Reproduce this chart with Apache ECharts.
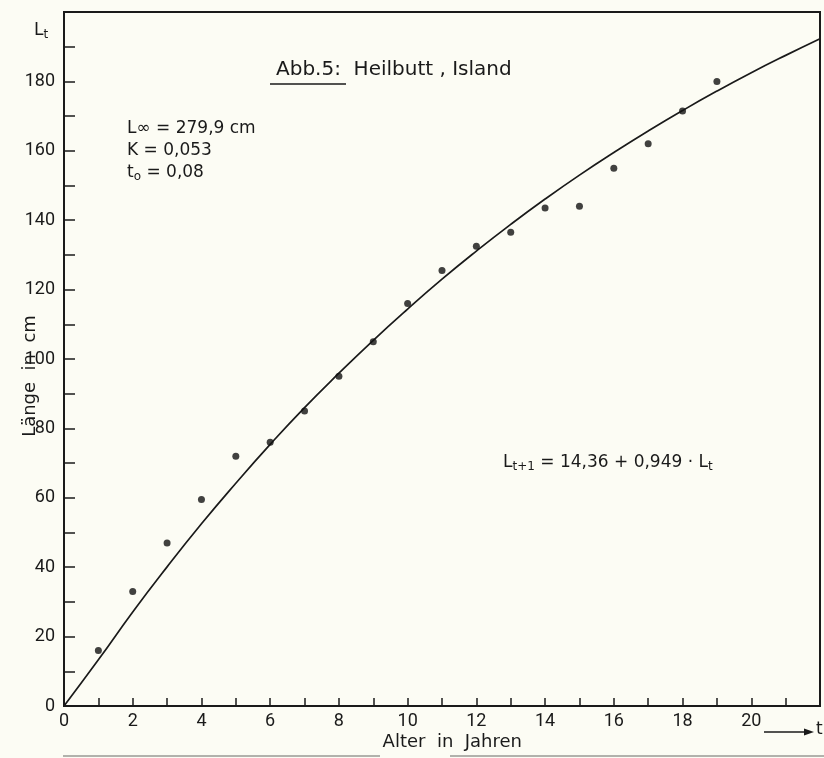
<!DOCTYPE html>
<html>
<head>
<meta charset="utf-8">
<script src="https://cdn.jsdelivr.net/npm/echarts@6/dist/echarts.min.js"></script>
<style>
  html, body { margin: 0; padding: 0; background: #fcfcf4; }
</style>
</head>
<body>
<div id="chart" style="width: 824px;height: 758px;"></div>
<script>
// Alter (Jahre) und gemessene Längen
const ageYears = [1, 2, 3, 4, 5, 6, 7, 8, 9, 10, 11, 12, 13, 14, 15, 16, 17, 18, 19]
const lengthCm = [16, 33, 47, 59.5, 72, 76, 85, 95, 105, 116, 125.5, 132.5, 136.5, 143.5, 144, 155, 162, 171.5, 180]

const curveAge = [0, 1, 2, 3, 4, 5, 6, 7, 8, 9, 10, 11, 12, 13, 14, 15, 16, 17, 18, 19, 20, 21, 22]
const curveLength = [0, 13.3, 27.1, 40.1, 52.5, 64.2, 75.4, 86, 95.9, 105.4, 114.4, 123, 131.1, 138.8, 146.1, 153, 159.5, 165.7, 171.6, 177.2, 182.5, 187.5, 192.3]

const xLabels = [0, 2, 4, 6, 8, 10, 12, 14, 16, 18, 20]
const yLabels = [0, 20, 40, 60, 80, 100, 120, 140, 160, 180]

const font = 'DejaVu Sans'
const numFont = 'Roboto'
const ink = '#1a1a1a'

const chart = echarts.init(document.getElementById('chart'))

const points = ageYears.map((t, i) => [t, lengthCm[i]])
const curve = curveAge.map((t, i) => [t, curveLength[i]])

chart.setOption({
  backgroundColor: '#fcfcf4',
  animation: false,
  grid: {
    left: 64,
    right: 4,
    top: 12,
    bottom: 52,
    show: true,
    borderColor: ink,
    borderWidth: 2
  },
  xAxis: {
    type: 'value',
    min: 0,
    max: 22,
    interval: 1,
    splitLine: { show: false },
    axisLine: { lineStyle: { color: ink, width: 2 } },
    axisTick: { inside: true, length: 8, lineStyle: { color: ink, width: 1.5 } },
    axisLabel: {
      color: ink,
      fontFamily: numFont,
      fontSize: 18,
      margin: 6,
      showMaxLabel: false,
      formatter: (v) => xLabels.indexOf(v) >= 0 ? String(v) : ''
    }
  },
  yAxis: {
    type: 'value',
    min: 0,
    max: 200,
    interval: 10,
    splitLine: { show: false },
    axisLine: { lineStyle: { color: ink, width: 2 } },
    axisTick: { inside: true, length: 11, lineStyle: { color: ink, width: 1.5 } },
    axisLabel: {
      color: ink,
      fontFamily: numFont,
      fontSize: 18,
      margin: 9,
      showMaxLabel: false,
      formatter: (v) => yLabels.indexOf(v) >= 0 ? String(v) : ''
    }
  },
  series: [
    {
      type: 'line',
      data: curve,
      smooth: true,
      showSymbol: false,
      lineStyle: { color: ink, width: 1.7 },
      z: 2
    },
    {
      type: 'scatter',
      data: points,
      symbolSize: 7,
      itemStyle: { color: '#111' },
      z: 3
    }
  ],
  graphic: [
    // L_t über der y-Achse
    {
      type: 'text', left: 34, top: 22,
      style: {
        text: '{m|L}{s|t}', fill: ink,
        rich: { m: { fontFamily: font, fontSize: 17 }, s: { fontFamily: font, fontSize: 12, padding: [8, 0, 0, 0] } }
      }
    },
    // Titel
    {
      type: 'text', left: 276, top: 60,
      style: { text: 'Abb.5:  Heilbutt , Island', fill: ink, fontFamily: font, fontSize: 20 }
    },
    {
      type: 'line', shape: { x1: 270, y1: 84, x2: 346, y2: 84 },
      style: { stroke: ink, lineWidth: 1.5 }
    },
    // Parameter
    {
      type: 'text', left: 127, top: 118,
      style: {
        text: 'L\u221E = 279,9 cm\nK = 0,053\n{m|t}{s|o}{m| = 0,08}', fill: ink,
        fontFamily: font, fontSize: 17, lineHeight: 22,
        rich: { m: { fontFamily: font, fontSize: 17 }, s: { fontFamily: font, fontSize: 12, padding: [7, 0, 0, 0] } }
      }
    },
    // Gleichung
    {
      type: 'text', left: 503, top: 454,
      style: {
        text: '{m|L}{s|t+1}{m| = 14,36 + 0,949 \u00B7 L}{s|t}', fill: ink,
        rich: { m: { fontFamily: font, fontSize: 17 }, s: { fontFamily: font, fontSize: 12, padding: [8, 0, 0, 0] } }
      }
    },
    // y-Achsentitel
    {
      type: 'text', x: 30, y: 376, rotation: Math.PI / 2,
      style: { text: 'Länge  in  cm', fill: ink, fontFamily: font, fontSize: 18, align: 'center', verticalAlign: 'middle' }
    },
    // x-Achsentitel
    {
      type: 'text', x: 522, y: 742,
      style: { text: 'Alter  in  Jahren', fill: ink, fontFamily: font, fontSize: 18, align: 'right', verticalAlign: 'middle' }
    },
    // Pfeil -> t
    {
      type: 'line', shape: { x1: 764, y1: 732, x2: 806, y2: 732 },
      style: { stroke: ink, lineWidth: 1.5 }
    },
    {
      type: 'polygon', shape: { points: [[814, 732], [804, 728.5], [804, 735.5]] },
      style: { fill: ink }
    },
    {
      type: 'text', x: 816, y: 730,
      style: { text: 't', fill: ink, fontFamily: font, fontSize: 17, verticalAlign: 'middle' }
    },
    // Blattkante unten
    {
      type: 'line', shape: { x1: 63, y1: 756, x2: 380, y2: 756 },
      style: { stroke: '#9a9a94', lineWidth: 1.5 }
    },
    {
      type: 'line', shape: { x1: 450, y1: 756, x2: 824, y2: 756 },
      style: { stroke: '#9a9a94', lineWidth: 1.5 }
    }
  ]
})
</script>
</body>
</html>
